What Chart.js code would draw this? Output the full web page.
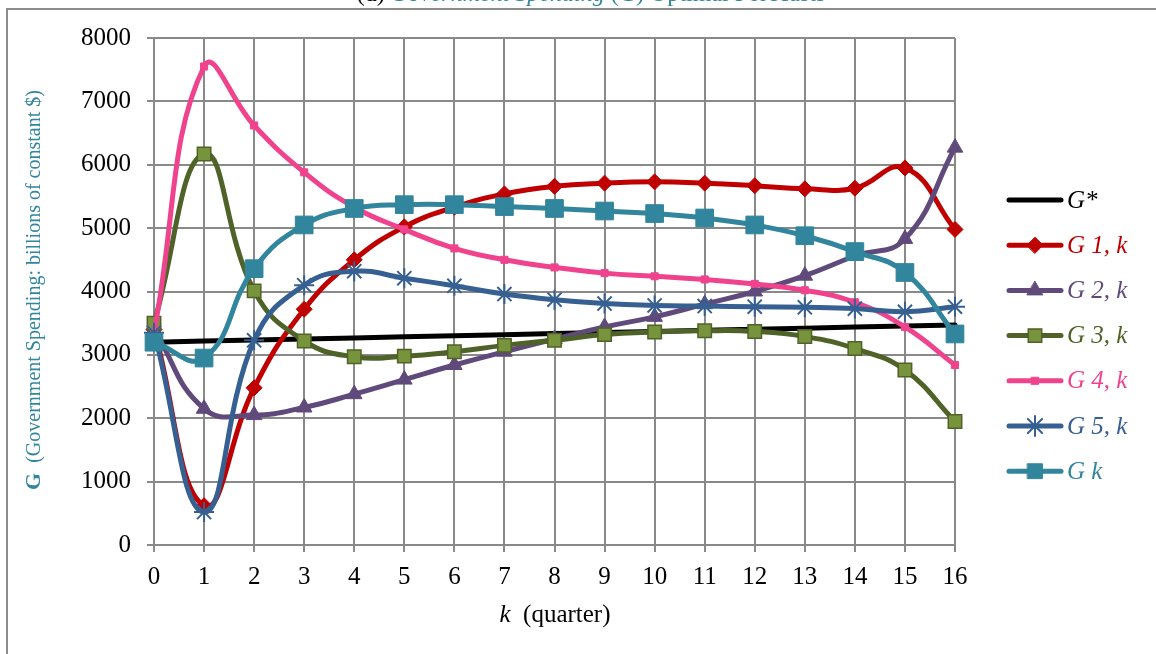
<!DOCTYPE html>
<html>
<head>
<meta charset="utf-8">
<script src="https://cdn.jsdelivr.net/npm/chart.js@4/dist/chart.umd.min.js"></script>
<style>
  html, body { margin: 0; padding: 0; background: #fff; }
  #wrap { width: 1156px; height: 654px; position: relative; }
</style>
</head>
<body>
<div id="wrap"><canvas id="chart" width="1156" height="654"></canvas></div>
<script>
// quarters k = 0..16
const quarters = ['0','1','2','3','4','5','6','7','8','9','10','11','12','13','14','15','16'];
const yTicks = [0, 1000, 2000, 3000, 4000, 5000, 6000, 7000, 8000];

// forecast paths (billions of constant $)
const gStar = [3200, 3217, 3234, 3251, 3268, 3285, 3302, 3319, 3336, 3353, 3370, 3387, 3404, 3421, 3438, 3455, 3472];
const g1 = [3400, 620, 2480, 3720, 4500, 5020, 5330, 5540, 5660, 5710, 5730, 5710, 5670, 5620, 5630, 5950, 4980];
const g2 = [3400, 2150, 2050, 2170, 2380, 2610, 2840, 3050, 3250, 3440, 3600, 3800, 4000, 4250, 4560, 4830, 6270];
const g3 = [3500, 6170, 4010, 3220, 2970, 2980, 3050, 3150, 3230, 3320, 3360, 3380, 3370, 3290, 3100, 2760, 1950];
const g4 = [3350, 7550, 6620, 5880, 5330, 4980, 4680, 4500, 4380, 4290, 4240, 4190, 4120, 4020, 3830, 3440, 2840];
const g5 = [3350, 520, 3230, 4100, 4320, 4210, 4090, 3960, 3870, 3810, 3780, 3770, 3760, 3750, 3730, 3680, 3760];
const gK = [3200, 2950, 4360, 5050, 5310, 5370, 5370, 5340, 5310, 5270, 5230, 5160, 5050, 4880, 4630, 4300, 3330];

const SERIF = '"Liberation Serif", "Times New Roman", serif';
const TEAL = '#31859c';
const GRID = '#898989';

function series(label, data, color, point) {
  return Object.assign({
    label: label,
    data: data,
    borderColor: color,
    backgroundColor: color,
    pointBackgroundColor: color,
    pointBorderColor: color,
    borderWidth: 5,
    borderCapStyle: 'round',
    borderJoinStyle: 'round',
    tension: 0.45,
    clip: false,
    pointBorderWidth: 1
  }, point);
}

const datasets = [
  series('G*', gStar, '#000000', { pointRadius: 0, tension: 0 }),
  series('G 1, k', g1, '#c00000', { pointStyle: 'rectRot', pointRadius: 8 }),
  series('G 2, k', g2, '#604a7b', { pointStyle: 'triangle', pointRadius: 9 }),
  series('G 3, k', g3, '#4f6228', { pointStyle: 'rect', pointRadius: 9.5, pointBackgroundColor: '#77933c', pointBorderColor: '#4f6228', pointBorderWidth: 1.5 }),
  series('G 4, k', g4, '#f0438e', { pointStyle: 'rect', pointRadius: 5 }),
  series('G 5, k', g5, '#376092', { pointStyle: 'star', pointRadius: 10, pointBorderWidth: 2 }),
  series('G k', gK, TEAL, { pointStyle: 'rect', pointRadius: 12.5 })
];
// later series sit on top
datasets.forEach((d, i) => { d.order = datasets.length - i; });

// frame, cut-off heading, axis titles
const decorations = {
  id: 'decorations',
  beforeDraw(chart) {
    const ctx = chart.ctx;
    ctx.save();
    ctx.fillStyle = '#fff';
    ctx.fillRect(0, 0, chart.width, chart.height);
    ctx.strokeStyle = '#8c8c8c';
    ctx.lineWidth = 2;
    ctx.beginPath();
    ctx.moveTo(7, 654);
    ctx.lineTo(7, 9);
    ctx.lineTo(1156, 9);
    ctx.stroke();

    // heading (mostly above the frame)
    const parts = [
      ['(d) ', '24px ' + SERIF, '#000'],
      ['Government Spending', 'italic 24px ' + SERIF, TEAL],
      [' (G) Optimal Forecasts', '24px ' + SERIF, TEAL]
    ];
    let total = 0;
    parts.forEach(p => { ctx.font = p[1]; total += ctx.measureText(p[0]).width; });
    let x = 591 - total / 2;
    ctx.textBaseline = 'alphabetic';
    parts.forEach(p => {
      ctx.font = p[1];
      ctx.fillStyle = p[2];
      ctx.fillText(p[0], x, 1);
      x += ctx.measureText(p[0]).width;
    });
    ctx.restore();
  },
  afterDraw(chart) {
    const ctx = chart.ctx;
    ctx.save();
    // y axis title, rotated
    const yParts = [
      ['G', 'bold 22px ' + SERIF],
      ['  (Government Spending: billions of constant $)', '20px ' + SERIF]
    ];
    let total = 0;
    yParts.forEach(p => { ctx.font = p[1]; total += ctx.measureText(p[0]).width; });
    ctx.translate(40, 290);
    ctx.rotate(-Math.PI / 2);
    ctx.fillStyle = TEAL;
    ctx.textBaseline = 'alphabetic';
    let x = -total / 2;
    yParts.forEach(p => {
      ctx.font = p[1];
      ctx.fillText(p[0], x, 0);
      x += ctx.measureText(p[0]).width;
    });
    ctx.restore();

    // x axis title
    ctx.save();
    const xParts = [
      ['k', 'italic 25px ' + SERIF],
      ['  (quarter)', '25px ' + SERIF]
    ];
    total = 0;
    xParts.forEach(p => { ctx.font = p[1]; total += ctx.measureText(p[0]).width; });
    x = 555 - total / 2;
    ctx.fillStyle = '#000';
    xParts.forEach(p => {
      ctx.font = p[1];
      ctx.fillText(p[0], x, 622);
      x += ctx.measureText(p[0]).width;
    });
    ctx.restore();
  }
};

// legend: line sample with the marker in the middle, italic coloured label
const sideLegend = {
  id: 'sideLegend',
  afterDraw(chart) {
    const ctx = chart.ctx;
    chart.data.datasets.forEach((ds, i) => {
      const y = 200 + i * 45.2;
      ctx.save();
      ctx.strokeStyle = ds.borderColor;
      ctx.lineWidth = 5;
      ctx.lineCap = 'round';
      ctx.beginPath();
      ctx.moveTo(1009, y);
      ctx.lineTo(1061, y);
      ctx.stroke();
      if (ds.pointRadius > 0) {
        ctx.fillStyle = ds.pointBackgroundColor;
        ctx.strokeStyle = ds.pointBorderColor;
        ctx.lineWidth = ds.pointBorderWidth;
        Chart.helpers.drawPoint(ctx, {
          pointStyle: ds.pointStyle,
          radius: ds.label === 'G k' ? 10.5 : ds.pointRadius,
          rotation: 0,
          borderWidth: ds.pointBorderWidth
        }, 1035, y);
      }
      ctx.font = 'italic 25px ' + SERIF;
      ctx.fillStyle = ds.borderColor;
      ctx.textBaseline = 'middle';
      ctx.fillText(ds.label, 1067, y + 1);
      ctx.restore();
    });
  }
};

new Chart(document.getElementById('chart'), {
  type: 'line',
  data: { labels: quarters, datasets: datasets },
  options: {
    responsive: false,
    animation: false,
    layout: { padding: { top: 38, right: 201, left: 0, bottom: 0 } },
    plugins: { legend: { display: false }, tooltip: { enabled: false } },
    scales: {
      x: {
        type: 'category',
        offset: false,
        afterFit: s => { s.height = 109; },
        grid: { color: GRID, lineWidth: 2, tickLength: 7, tickColor: GRID },
        border: { color: GRID, width: 2 },
        ticks: { color: '#000', font: { family: SERIF, size: 25 }, padding: 10, maxRotation: 0, autoSkip: false }
      },
      y: {
        min: yTicks[0],
        max: yTicks[yTicks.length - 1],
        afterFit: s => { s.width = 154; },
        afterBuildTicks: s => { s.ticks = yTicks.map(v => ({ value: v })); },
        grid: { color: GRID, lineWidth: 2, tickLength: 7, tickColor: GRID },
        border: { color: GRID, width: 2 },
        ticks: { color: '#000', font: { family: SERIF, size: 25 }, padding: 16, callback: v => String(v) }
      }
    }
  },
  plugins: [decorations, sideLegend]
});
</script>
</body>
</html>
